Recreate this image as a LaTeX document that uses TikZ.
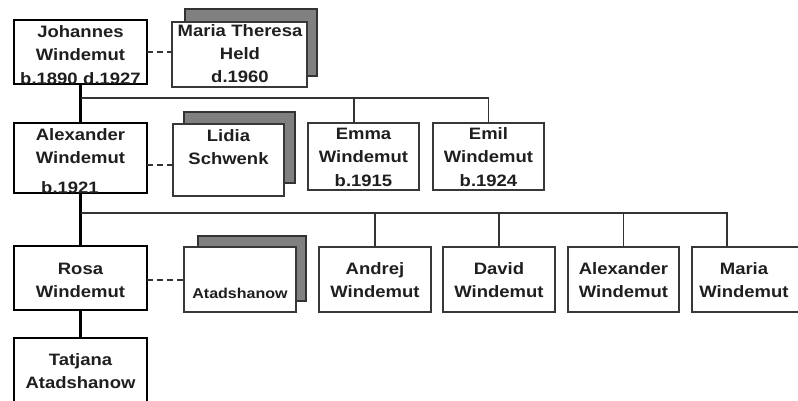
\documentclass[tikz,border=0pt]{standalone}
\usepackage{fontspec}
\newfontfamily\lab[FakeStretch=1.12]{Liberation Sans}
\usetikzlibrary{calc}
\newcommand\fambox[6]{\node[#1, minimum width={#4-#3}, minimum height={#6-#5}] (#2) at ({(#3+#4)/2},{(#5+#6)/2}) {};}
\begin{document}
\begin{tikzpicture}[x=1pt,y=-1pt,
  thickbox/.style={draw=black, line width=2.6pt, fill=white, inner sep=0pt, outer sep=0pt},
  thinbox/.style={draw=black!78, line width=1.4pt, fill=white, inner sep=0pt, outer sep=0pt},
  shadowbox/.style={draw=black!80, line width=1.4pt, fill=black!50, inner sep=0pt, outer sep=0pt},
  link/.style={draw=black!80, line width=1.4pt},
  stem/.style={draw=black, line width=2.6pt},
  partnerline/.style={draw=black!80, line width=1.4pt, dash pattern=on 6pt off 4pt},
  txt/.style={font=\lab\bfseries\fontsize{16.5}{23.3}\selectfont, text=black!88, text width=130pt, align=center, inner sep=0pt, anchor=base},
  smalltxt/.style={txt, font=\lab\bfseries\fontsize{14.3}{20}\selectfont}
]
\useasboundingbox (0,0) rectangle (798,400);
\clip (0,0) rectangle (798,400);
\fill[white] (0,0) rectangle (798,400);

% ---------- connectors (drawn first, boxes cover ends) ----------
% generation 1
\fambox{thickbox}{j}{14}{147}{20}{84}
\fambox{shadowbox}{mths}{185}{317}{9}{76}
\fambox{thinbox}{mth}{172}{307}{22}{87}
% generation 2
\fambox{thickbox}{a}{14}{147}{123}{193}
\fambox{shadowbox}{lids}{184}{295}{112}{183}
\fambox{thinbox}{lid}{173}{284}{124}{196}
\fambox{thinbox}{emma}{308}{419}{123}{190}
\fambox{thinbox}{emil}{433}{544}{123}{190}
% generation 3
\fambox{thickbox}{rosa}{14}{147}{246}{310}
\fambox{shadowbox}{atads}{198}{306}{236}{301}
\fambox{thinbox}{atad}{184}{296}{247}{312}
\fambox{thinbox}{andrej}{319}{431}{247}{312}
\fambox{thinbox}{david}{443}{555}{247}{312}
\fambox{thinbox}{alexjr}{568}{679}{247}{312}
\fambox{thinbox}{mariaw}{692}{806}{247}{312}
% generation 4
\fambox{thickbox}{tat}{14}{147}{338}{420}

% connector coordinates
\coordinate (bar1) at (80.5,98);
\coordinate (bar2) at (80.5,213);

\draw[stem] (j.south) -- (a.north);
\draw[link] (bar1) -| (emil.north);
\draw[link] ([xshift=-9.5pt]emma.north) -- ([xshift=-9.5pt]emma.north |- bar1);
\draw[partnerline] (j.east) -- (j.east -| mth.west);

\draw[stem] (a.south) -- (rosa.north);
\draw[link] (bar2) -| ([xshift=-22pt]mariaw.north);
\draw[link] (andrej.north) -- (andrej.north |- bar2);
\draw[link] (david.north) -- (david.north |- bar2);
\draw[link] (alexjr.north) -- (alexjr.north |- bar2);
\draw[partnerline] ([yshift=-7pt]a.east) -- ([yshift=-7pt]a.east -| lid.west);

\draw[stem] (rosa.south) -- (tat.north);
\draw[partnerline] ([yshift=-2pt]rosa.east) -- ([yshift=-2pt]rosa.east -| atad.west);

% ---------- texts ----------
\node[txt] (tj) at (80.5,37.5) {Johannes\\Windemut\\b.1890 d.1927};
\node[txt] (tmth) at (240,36) {Maria Theresa\\Held\\d.1960};
\node[txt] (ta) at (80.5,140) {Alexander\\Windemut};
\node[txt] (tab) at (70,193) {b.1921};
\node[txt] (tlid) at (228.5,141) {Lidia\\Schwenk};
\node[txt] (temma) at (363.5,139.5) {Emma\\Windemut\\b.1915};
\node[txt] (temil) at (488.5,139.5) {Emil\\Windemut\\b.1924};
\node[txt] (trosa) at (80.5,274) {Rosa\\Windemut};
\node[smalltxt] (tatad) at (240,298) {Atadshanow};
\node[txt] (tandrej) at (375,274) {Andrej\\Windemut};
\node[txt] (tdavid) at (499,274) {David\\Windemut};
\node[txt] (talexjr) at (623.5,274) {Alexander\\Windemut};
\node[txt] (tmariaw) at (744,274) {Maria\\Windemut};
\node[txt] (ttat) at (80.5,365) {Tatjana\\Atadshanow};
\end{tikzpicture}
\end{document}
